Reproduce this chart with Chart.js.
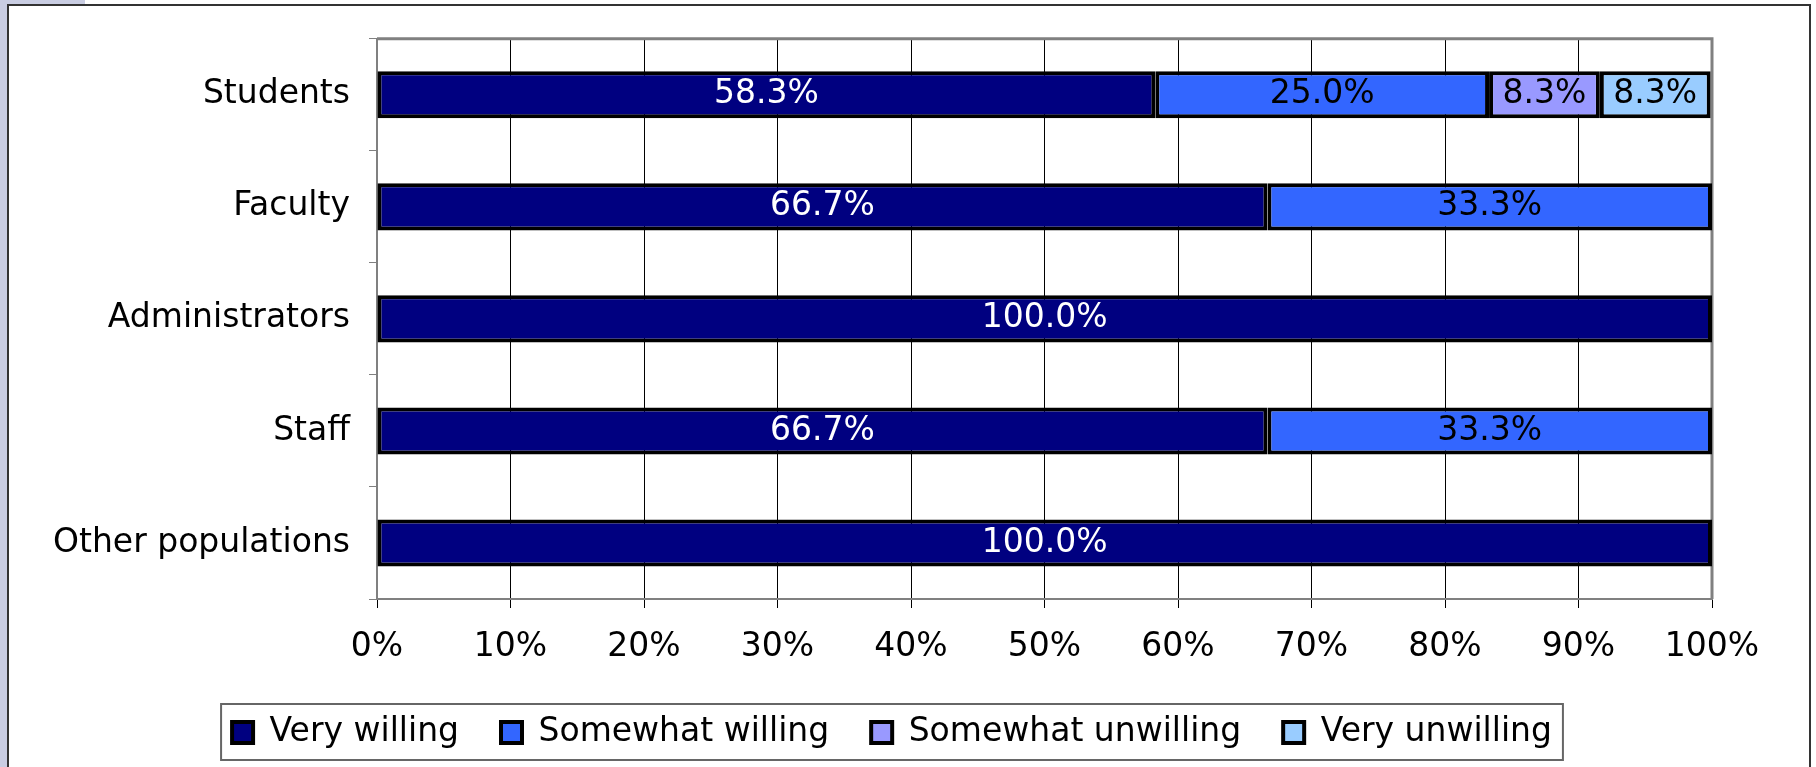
<!DOCTYPE html>
<html>
<head>
<meta charset="utf-8">
<script src="https://cdn.jsdelivr.net/npm/chart.js@4"></script>
<style>
  body { margin: 0; background: #fff; }
  #strip { position: absolute; left: 0; top: 0; width: 7px; height: 767px; background: #c9cde2; }
  #corner { position: absolute; left: 0; top: 0; width: 85px; height: 4px; background: #c9cde2; }
  #frame { position: absolute; left: 7px; top: 4px; width: 1804px; height: 780px; border: 2px solid #333; box-sizing: border-box; }
  #wrap { position: absolute; left: 0; top: 0; width: 1816px; height: 767px; }
</style>
</head>
<body>
<div id="strip"></div>
<div id="corner"></div>
<div id="frame"></div>
<div id="wrap"><canvas id="myChart" width="1816" height="767"></canvas></div>
<script>
// Categories and series
const categories = ['Students', 'Faculty', 'Administrators', 'Staff', 'Other populations'];
const seriesNames = ['Very willing', 'Somewhat willing', 'Somewhat unwilling', 'Very unwilling'];
const veryWilling = [58.3, 66.7, 100.0, 66.7, 100.0];
const somewhatWilling = [25.0, 33.3, null, 33.3, null];
const somewhatUnwilling = [8.3, null, null, null, null];
const veryUnwilling = [8.3, null, null, null, null];
const xTickValues = [0, 10, 20, 30, 40, 50, 60, 70, 80, 90, 100];

const seriesColors = ['#000080', '#3366ff', '#9999ff', '#99ccff'];
const labelColors = ['#ffffff', '#000000', '#000000', '#000000'];
const fontFamily = '"DejaVu Sans", Verdana, sans-serif';

// Writes the value in the middle of every bar
const barLabels = {
  id: 'barLabels',
  afterDatasetsDraw(chart) {
    const ctx = chart.ctx;
    ctx.save();
    ctx.font = '33px ' + fontFamily;
    ctx.textAlign = 'center';
    ctx.textBaseline = 'middle';
    chart.data.datasets.forEach((ds, i) => {
      const meta = chart.getDatasetMeta(i);
      meta.data.forEach((bar, j) => {
        const v = ds.data[j];
        if (v == null) return;
        const p = bar.getProps(['x', 'y', 'base'], true);
        ctx.fillStyle = labelColors[i];
        ctx.fillText(v.toFixed(1) + '%', (p.x + p.base) / 2, p.y);
      });
    });
    ctx.restore();
  }
};

// Grey frame round the plot and a box round the legend
const frames = {
  id: 'frames',
  afterLayout(chart) {
    // the legend in the picture sits a bit right of the canvas centre
    chart.legend.left += 36;
    chart.legend.right += 36;
  },
  beforeDatasetsDraw(chart) {
    const a = chart.chartArea;
    const ctx = chart.ctx;
    ctx.save();
    ctx.strokeStyle = '#808080';
    ctx.lineWidth = 3;
    ctx.beginPath();
    ctx.moveTo(a.left, a.top);
    ctx.lineTo(a.right, a.top);
    ctx.lineTo(a.right, a.bottom);
    ctx.stroke();
    ctx.restore();
  },
  afterDraw(chart) {
    const boxes = chart.legend.legendHitBoxes;
    if (!boxes || !boxes.length) return;
    let left = Infinity, right = -Infinity, top = Infinity, bottom = -Infinity;
    boxes.forEach(b => {
      left = Math.min(left, b.left);
      right = Math.max(right, b.left + b.width);
      top = Math.min(top, b.top);
      bottom = Math.max(bottom, b.top + b.height);
    });
    const ctx = chart.ctx;
    ctx.save();
    ctx.strokeStyle = '#666';
    ctx.lineWidth = 2;
    ctx.strokeRect(left - 11, top - 12, right - left + 22, bottom - top + 23);
    ctx.restore();
  }
};

const datasetValues = [veryWilling, somewhatWilling, somewhatUnwilling, veryUnwilling];

const ctx = document.getElementById('myChart').getContext('2d');
const chart = new Chart(ctx, {
  type: 'bar',
  data: {
    labels: categories,
    datasets: datasetValues.map((vals, i) => ({
      label: seriesNames[i],
      data: vals,
      backgroundColor: seriesColors[i],
      borderColor: '#000000',
      borderWidth: 4,
      borderSkipped: false,
      barPercentage: 0.42,
      categoryPercentage: 1.0
    }))
  },
  options: {
    indexAxis: 'y',
    responsive: false,
    animation: false,
    devicePixelRatio: 1,
    layout: {
      padding: { left: 0, right: 104, top: 34, bottom: 8 }
    },
    scales: {
      x: {
        stacked: true,
        min: 0,
        max: 100,
        afterBuildTicks(axis) {
          axis.ticks = xTickValues.map(v => ({ value: v }));
        },
        afterFit(axis) { axis.height = 75; },
        grid: { color: '#000000', lineWidth: 1, tickLength: 9 },
        border: { color: '#808080', width: 2 },
        ticks: {
          padding: 20,
          color: '#000000',
          maxRotation: 0,
          font: { family: fontFamily, size: 33 },
          callback: v => v + '%'
        }
      },
      y: {
        stacked: true,
        afterFit(axis) { axis.width = 377; },
        grid: { drawOnChartArea: false, color: '#808080', tickLength: 8, offset: true },
        border: { color: '#808080', width: 2 },
        ticks: {
          padding: 19,
          color: '#000000',
          font: { family: fontFamily, size: 33 }
        }
      }
    },
    plugins: {
      legend: {
        position: 'bottom',
        labels: {
          boxWidth: 21,
          boxHeight: 21,
          padding: 42,
          color: '#000000',
          font: { family: fontFamily, size: 33 }
        }
      },
      tooltip: { enabled: false }
    }
  },
  plugins: [barLabels, frames]
});
</script>
</body>
</html>
